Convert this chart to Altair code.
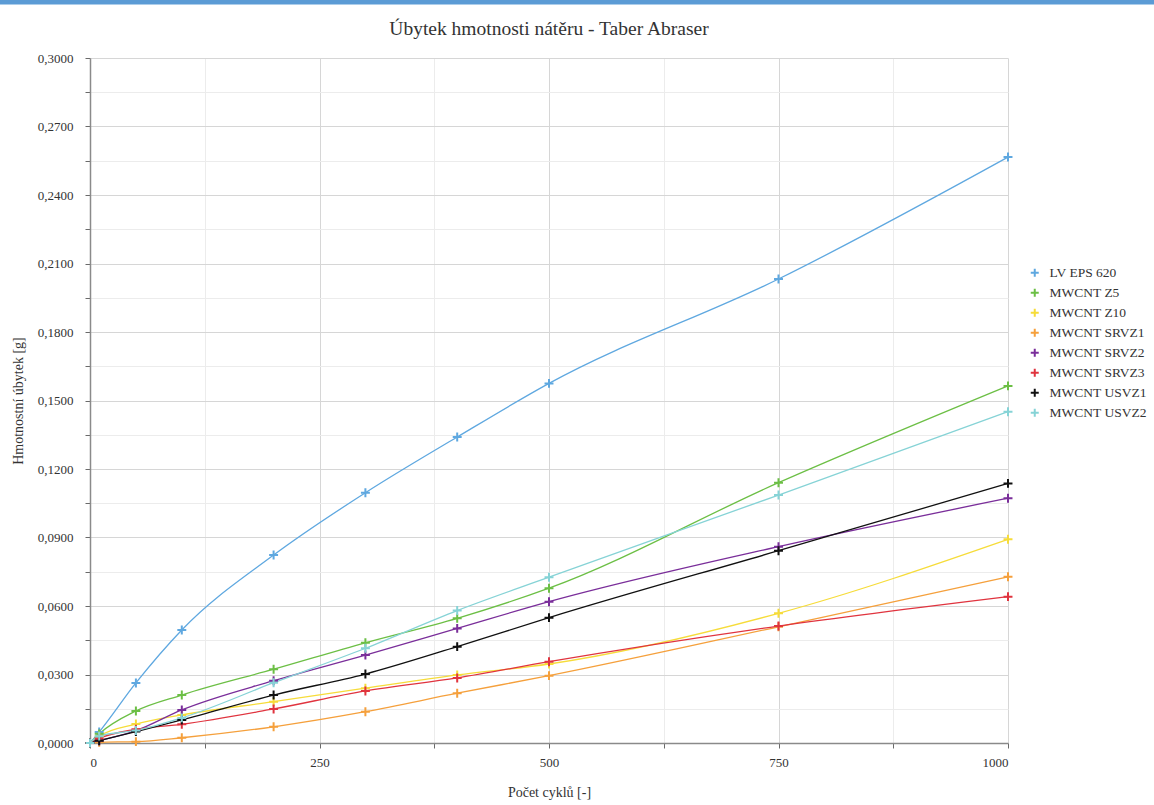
import altair as alt
import pandas as pd

cycles = [0, 10, 50, 100, 200, 300, 400, 500, 750, 1000]

series_names = [
    "LV EPS 620",
    "MWCNT Z5",
    "MWCNT Z10",
    "MWCNT SRVZ1",
    "MWCNT SRVZ2",
    "MWCNT SRVZ3",
    "MWCNT USVZ1",
    "MWCNT USVZ2",
]

lv_eps_620 = [0, 0.0048, 0.0263, 0.0495, 0.0823, 0.1096, 0.1340, 0.1575, 0.2032, 0.2566]
mwcnt_z5 = [0, 0.0040, 0.0140, 0.0210, 0.0323, 0.0439, 0.0546, 0.0678, 0.1140, 0.1564]
mwcnt_z10 = [0, 0.0030, 0.0083, 0.0123, 0.0181, 0.0240, 0.0298, 0.0346, 0.0568, 0.0892]
mwcnt_srvz1 = [0, 0.0003, 0.0006, 0.0023, 0.0071, 0.0137, 0.0218, 0.0295, 0.0509, 0.0728]
mwcnt_srvz2 = [0, 0.0010, 0.0054, 0.0145, 0.0273, 0.0385, 0.0502, 0.0619, 0.0860, 0.1072]
mwcnt_srvz3 = [0, 0.0020, 0.0060, 0.0082, 0.0149, 0.0228, 0.0285, 0.0356, 0.0512, 0.0641]
mwcnt_usvz1 = [0, 0.0010, 0.0050, 0.0101, 0.0210, 0.0302, 0.0422, 0.0549, 0.0842, 0.1137]
mwcnt_usvz2 = [0, 0.0030, 0.0055, 0.0110, 0.0264, 0.0415, 0.0580, 0.0726, 0.1086, 0.1451]

series_values = [
    lv_eps_620, mwcnt_z5, mwcnt_z10, mwcnt_srvz1,
    mwcnt_srvz2, mwcnt_srvz3, mwcnt_usvz1, mwcnt_usvz2,
]

colors = ["#5fa8e0", "#6cbf45", "#f6dc3a", "#f5a03c", "#7a2e9a", "#e0343f", "#111111", "#86d3d6"]

x_ticks = [0, 125, 250, 375, 500, 625, 750, 875, 1000]
y_ticks = [round(i * 0.015, 4) for i in range(21)]

rows = []
for i, (name, vals) in enumerate(zip(series_names, series_values)):
    for c, v in zip(cycles, vals):
        rows.append({"series": name, "cycles": c, "loss": v, "idx": i})
df = pd.DataFrame(rows)

FONT = "Liberation Serif"
PLUS = "M-1,0L1,0M0,-1L0,1"

legend = alt.Legend(
    title=None,
    orient="none",
    legendX=938,
    legendY=208,
    symbolType=PLUS,
    symbolSize=64,
    symbolStrokeWidth=2,
    labelFont=FONT,
    labelFontSize=13.5,
    labelColor="#333333",
    rowPadding=3,
    labelOffset=8,
)


def color_enc():
    return alt.Color(
        "series:N",
        scale=alt.Scale(domain=series_names, range=colors),
        sort=series_names,
        legend=legend,
    )


x_enc = alt.X(
    "cycles:Q",
    title="Počet cyklů [-]",
    scale=alt.Scale(domain=[0, 1000], nice=False, zero=False),
    axis=alt.Axis(
        values=x_ticks,
        format="d",
        labelExpr="datum.value % 250 == 0 ? datum.label : ''",
        gridColor={"condition": {"test": "datum.value % 250 == 0", "value": "#d6d6d6"}, "value": "#ececec"},
        titlePadding=16,
        labelPadding=8,
    ),
)

y_enc = alt.Y(
    "loss:Q",
    title="Hmotnostní úbytek [g]",
    scale=alt.Scale(domain=[0, 0.3], nice=False),
    axis=alt.Axis(
        values=y_ticks,
        labelExpr="round(datum.value*1000) % 30 == 0 ? replace(format(datum.value, '.4f'), '.', ',') : ''",
        gridColor={"condition": {"test": "round(datum.value*1000) % 30 == 0", "value": "#d6d6d6"}, "value": "#ececec"},
        titlePadding=12,
        labelPadding=12,
    ),
)

lines = alt.Chart(df).mark_line(interpolate="monotone", strokeWidth=1.3).encode(
    x=x_enc,
    y=y_enc,
    color=color_enc(),
    order="idx:Q",
)

points = alt.Chart(df).mark_point(shape=PLUS, filled=False, size=80, strokeWidth=2, opacity=1).encode(
    x=x_enc,
    y=y_enc,
    color=color_enc(),
)

topbar = alt.Chart(pd.DataFrame({"a": [0]})).mark_rule(color="#5b9bd5", strokeWidth=5).encode(
    x=alt.value(-90), x2=alt.value(1064), y=alt.value(-56)
)

chart = (
    alt.layer(lines, points, topbar)
    .properties(
        width=918,
        height=685,
        autosize=alt.AutoSizeParams(type="none"),
        padding={"left": 90, "top": 58, "right": 146, "bottom": 62},
        background="white",
        title=alt.Title(
            "Úbytek hmotnosti nátěru - Taber Abraser",
            font=FONT,
            fontSize=19.5,
            fontWeight="normal",
            color="#333333",
            offset=-40,
            frame="group",
        ),
    )
    .configure_view(stroke=None)
    .configure_axis(
        labelFont=FONT,
        labelFontSize=13,
        labelColor="#333333",
        titleFont=FONT,
        titleFontSize=14,
        titleFontWeight="normal",
        titleColor="#333333",
        domainColor="#8a8a8a",
        domainWidth=1.5,
        tickColor="#6a6a6a",
        tickSize=5,
    )
)

chart.save("out.html", embed_options={"renderer": "svg", "actions": False})
